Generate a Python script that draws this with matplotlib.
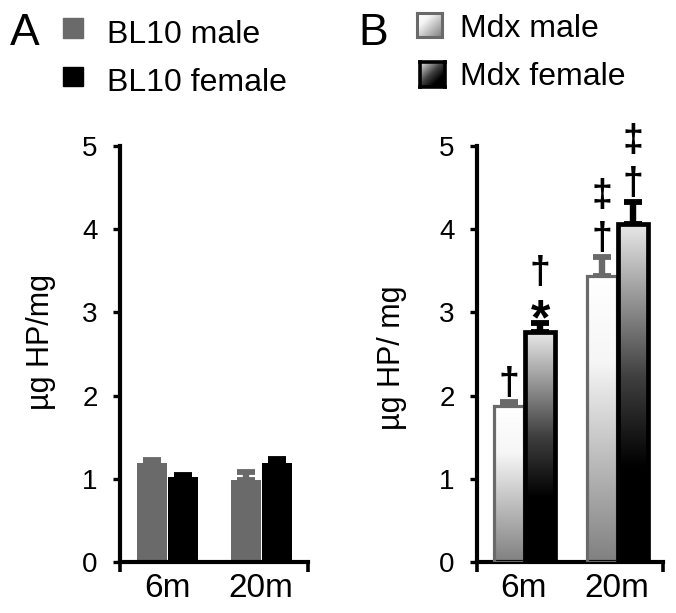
"""Hydroxyproline content, BL10 vs mdx mice, at 6 and 20 months."""

import matplotlib
import matplotlib.pyplot as plt
import numpy as np
from matplotlib.colors import LinearSegmentedColormap
from matplotlib.patches import Rectangle

matplotlib.use("Agg")

plt.rcParams["font.family"] = ["Liberation Sans", "DejaVu Sans"]

ages = ["6m", "20m"]

bl10_male = [1.19, 0.99]
bl10_male_err = [0.03, 0.09]
bl10_female = [1.02, 1.19]
bl10_female_err = [0.03, 0.05]

mdx_male = [1.875, 3.44]
mdx_male_err = [0.05, 0.22]
mdx_female = [2.76, 4.06]
mdx_female_err = [0.11, 0.27]

# significance marks for mdx bars, listed bottom to top
mdx_male_marks = [["†"], ["†", "‡"]]
mdx_female_marks = [["*", "†"], ["†", "‡"]]

W, H = 676, 613
GRAY = "#6a6a6a"
BAR_W = 0.32

fig = plt.figure(figsize=(W / 100, H / 100), dpi=100)


def px_box(x0, y0, x1, y1):
    """Pixel box (top-left origin) to figure fraction rect."""
    return [x0 / W, 1 - y1 / H, (x1 - x0) / W, (y1 - y0) / H]


def style_axis(ax, ylabel, label_x, label_y):
    ax.set_xlim(-0.5, 1.5)
    ax.set_ylim(0, 5)
    for side in ("top", "right"):
        ax.spines[side].set_visible(False)
    for side in ("left", "bottom"):
        ax.spines[side].set_linewidth(3)
    ax.set_yticks(range(6))
    ax.tick_params(axis="y", direction="out", length=5, width=2.4,
                   labelsize=20, pad=11)
    ax.set_xticks([0, 1])
    ax.set_xticklabels(ages)
    ax.tick_params(axis="x", length=0, labelsize=24, pad=8)
    ax.set_xticks([-0.5, 1.5], minor=True)
    ax.tick_params(axis="x", which="minor", direction="out", length=7,
                   width=2.6)
    ax.set_ylabel(ylabel, fontsize=22)
    ax.yaxis.set_label_coords(label_x, label_y)


def draw_err(ax, xs, tops, errs, color):
    ax.errorbar(xs, tops, yerr=[np.zeros(len(errs)), errs], fmt="none",
                ecolor=color, elinewidth=4.6, capsize=6.5, capthick=4.2,
                zorder=1)


x = np.arange(len(ages))

# ---- panel A ----
axA = fig.add_axes(px_box(120, 146, 308, 562))
axA.bar(x - BAR_W / 2, bl10_male, BAR_W, color=GRAY, zorder=2)
axA.bar(x + BAR_W / 2 + 0.01, bl10_female, BAR_W, color="black", zorder=2)
draw_err(axA, x - BAR_W / 2, bl10_male, bl10_male_err, GRAY)
draw_err(axA, x + BAR_W / 2 + 0.01, bl10_female, bl10_female_err, "black")
style_axis(axA, "µg HP/mg", -0.34, 0.53)

# ---- panel B ----
male_cmap = LinearSegmentedColormap.from_list(
    "male", [(0, "#ffffff"), (0.3, "#f6f6f6"), (1, "#808080")])
female_cmap = LinearSegmentedColormap.from_list(
    "female", [(0, "#e8e8e8"), (0.45, "#404040"), (0.72, "#000000"),
               (1, "#000000")])
grad = np.linspace(0, 1, 256).reshape(-1, 1)

axB = fig.add_axes(px_box(477, 146, 663, 562))
male_bars = axB.bar(x - BAR_W / 2, mdx_male, BAR_W, facecolor="none",
                    edgecolor=GRAY, linewidth=2.3, zorder=3)
female_bars = axB.bar(x + BAR_W / 2 + 0.02, mdx_female, BAR_W,
                      facecolor="none", edgecolor="black", linewidth=3.4,
                      zorder=3)
for bars, cmap in ((male_bars, male_cmap), (female_bars, female_cmap)):
    for b in bars:
        im = axB.imshow(grad, cmap=cmap, aspect="auto", origin="upper",
                        extent=[b.get_x(), b.get_x() + b.get_width(),
                                0, b.get_height()], zorder=2)
        im.set_clip_path(b)
draw_err(axB, x - BAR_W / 2, mdx_male, mdx_male_err, GRAY)
draw_err(axB, x + BAR_W / 2 + 0.02, mdx_female, mdx_female_err, "black")
style_axis(axB, "µg HP/ mg", -0.375, 0.49)

# significance marks
for xs, vals, errs, marks in (
        (x - BAR_W / 2, mdx_male, mdx_male_err, mdx_male_marks),
        (x + BAR_W / 2 + 0.02, mdx_female, mdx_female_err, mdx_female_marks)):
    for xi, v, e, syms in zip(xs, vals, errs, marks):
        off = 0
        for s in syms:
            if s == "*":
                axB.annotate(s, (xi, v + e), xytext=(0, off - 15),
                             textcoords="offset points", ha="center",
                             va="bottom", fontsize=36, fontweight="bold")
                off += 23
            else:
                axB.annotate(s, (xi, v + e), xytext=(0, off),
                             textcoords="offset points", ha="center",
                             va="bottom", fontsize=27, fontweight="bold")
                off += 31

# ---- legends ----
fig.text(10 / W, 1 - 45 / H, "A", fontsize=32, va="baseline")
fig.add_artist(Rectangle((63 / W, 1 - 38 / H), 20 / W, 20 / H,
                         transform=fig.transFigure, color=GRAY))
fig.add_artist(Rectangle((63 / W, 1 - 86 / H), 20 / W, 19 / H,
                         transform=fig.transFigure, color="black"))
fig.text(107 / W, 1 - 43 / H, "BL10 male", fontsize=23, va="baseline")
fig.text(107 / W, 1 - 91 / H, "BL10 female", fontsize=23, va="baseline")

fig.text(358 / W, 1 - 45 / H, "B", fontsize=32, va="baseline")
yy, xx = np.mgrid[0:1:32j, 0:1:32j]
diag = (xx + yy) / 2
for box, cmap, edge, lw in ((px_box(417, 13, 442, 37), male_cmap, GRAY, 2.2),
                            (px_box(420, 62, 445, 87), female_cmap, "black",
                             2.6)):
    lax = fig.add_axes(box)
    lax.imshow(diag, cmap=cmap, aspect="auto")
    lax.set_xticks([])
    lax.set_yticks([])
    for sp in lax.spines.values():
        sp.set_color(edge)
        sp.set_linewidth(lw)
fig.text(460 / W, 1 - 37 / H, "Mdx male", fontsize=23, va="baseline")
fig.text(460 / W, 1 - 85 / H, "Mdx female", fontsize=23, va="baseline")

fig.savefig("out.png", dpi=100)
plt.close(fig)
